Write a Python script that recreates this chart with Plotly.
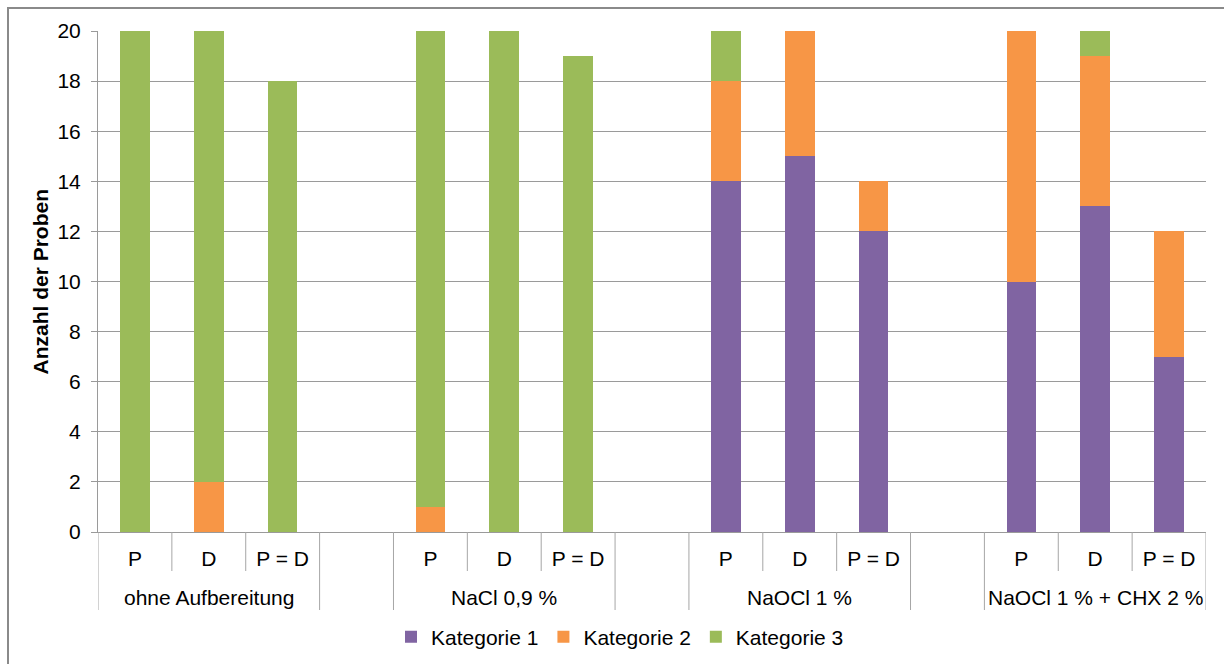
import plotly.graph_objects as go

# Data: number of samples per category, for each treatment and measurement site
groups = ["ohne Aufbereitung", "NaCl 0,9 %", "NaOCl 1 %", "NaOCl 1 % + CHX 2 %"]
sub_labels = ["P", "D", "P = D"]
kategorie_1 = [0, 0, 0, 0, 0, 0, 14, 15, 12, 10, 13, 7]
kategorie_2 = [0, 2, 0, 1, 0, 0, 4, 5, 2, 10, 6, 5]
kategorie_3 = [20, 18, 18, 19, 20, 19, 2, 0, 0, 0, 1, 0]
series_names = ["Kategorie 1", "Kategorie 2", "Kategorie 3"]
series_colors = ["#8064A2", "#F79646", "#9BBB59"]

FONT = "Arial, Liberation Sans, sans-serif"
FS = 21
GRAY = "#9a9a9a"
SEP = "#a6a6a6"

# Each group occupies len(sub_labels) slots followed by one empty spacer slot
stride = len(sub_labels) + 1
n_slots = stride * len(groups) - 1
xpos = [g * stride + s for g in range(len(groups)) for s in range(len(sub_labels))]

fig = go.Figure()
for name, vals, col in zip(series_names, [kategorie_1, kategorie_2, kategorie_3], series_colors):
    fig.add_trace(go.Bar(
        x=xpos, y=vals, name=name, width=0.4,
        marker=dict(color=col, line=dict(width=0)),
    ))

# Tick labels for the lower level (blank in spacer slots)
tickvals = list(range(n_slots))
ticktext = []
for i in tickvals:
    k = i % stride
    ticktext.append(sub_labels[k] if k < len(sub_labels) else "")

# Separator lines of the two-level category axis
h_plot = 664 - 31 - 132
short_y = -39 / h_plot
long_y = -78 / h_plot
shapes = []
long_bounds = set([-0.5, n_slots - 0.5])
for g in range(len(groups)):
    start = g * stride - 0.5
    end = start + len(sub_labels)
    long_bounds.update([start, end])
    for s in range(1, len(sub_labels)):
        b = start + s
        shapes.append(dict(type="line", xref="x", yref="paper", x0=b, x1=b,
                           y0=0, y1=short_y, line=dict(color=SEP, width=1)))
for b in sorted(long_bounds):
    shapes.append(dict(type="line", xref="x", yref="paper", x0=b, x1=b,
                       y0=0, y1=long_y, line=dict(color=SEP, width=1)))

# Outer chart frame
w_plot = 1224 - 98 - 18
shapes.append(dict(type="rect", xref="paper", yref="paper",
                   x0=(8 - 98) / w_plot, x1=(1260 - 98) / w_plot,
                   y0=-0.4, y1=(532 - 8) / h_plot,
                   line=dict(color="#8a8a8a", width=2), fillcolor="rgba(0,0,0,0)",
                   layer="below"))

annotations = []
for g, name in enumerate(groups):
    cx = g * stride + (len(sub_labels) - 1) / 2
    annotations.append(dict(x=cx, y=(532 - 597) / h_plot, xref="x", yref="paper",
                            text=name, showarrow=False, yanchor="middle",
                            font=dict(family=FONT, size=FS, color="black")))
annotations.append(dict(x=(40 - 98) / w_plot, y=0.5, xref="paper", yref="paper",
                        text="<b>Anzahl der Proben</b>", textangle=-90, showarrow=False,
                        xanchor="center", yanchor="middle",
                        font=dict(family=FONT, size=FS, color="black")))

fig.update_layout(
    width=1224, height=664,
    margin=dict(l=98, r=18, t=31, b=132, autoexpand=False),
    paper_bgcolor="white", plot_bgcolor="white",
    barmode="stack",
    font=dict(family=FONT, size=FS, color="black"),
    showlegend=True,
    legend=dict(orientation="h", x=(620 - 98) / w_plot, xanchor="center",
                y=(532 - 637) / h_plot, yanchor="middle", traceorder="normal",
                font=dict(family=FONT, size=FS, color="black"),
                itemwidth=30, bgcolor="rgba(0,0,0,0)"),
    xaxis=dict(range=[-0.5, n_slots - 0.5], tickmode="array", tickvals=tickvals,
               ticktext=ticktext, ticks="", showgrid=False, zeroline=False,
               showline=True, linecolor=GRAY, linewidth=1, ticklabelstandoff=8,
               automargin=False,
               tickfont=dict(family=FONT, size=FS, color="black")),
    yaxis=dict(range=[0, 20], dtick=2, tick0=0, showgrid=True, gridcolor=GRAY,
               gridwidth=1, zeroline=False, showline=True, linecolor=GRAY,
               linewidth=1, ticks="outside", ticklen=6, tickcolor=GRAY,
               ticklabelstandoff=6, automargin=False,
               tickfont=dict(family=FONT, size=FS, color="black")),
    shapes=shapes,
    annotations=annotations,
)

fig.write_html("out.html")
